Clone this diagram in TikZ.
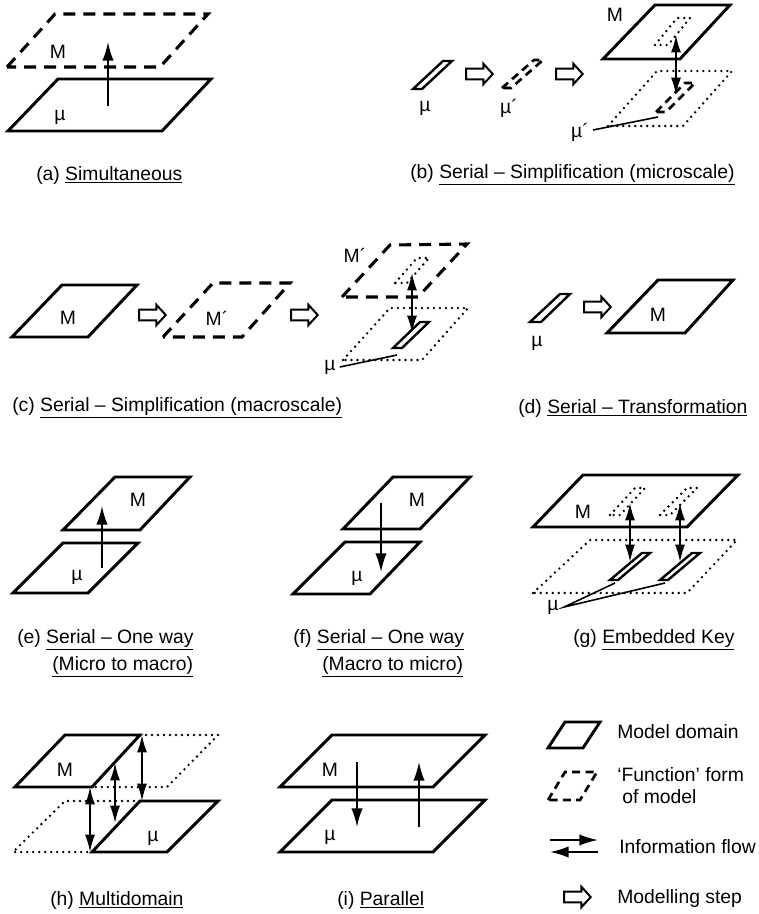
\documentclass[tikz,border=0pt]{standalone}
\usepackage{fontspec}
\setmainfont{Liberation Sans}
\usetikzlibrary{arrows.meta,positioning,shapes.arrows}
\newcommand{\shaft}{\vrule width 0pt height 3.2pt depth 3.2pt}

\begin{document}
\begin{tikzpicture}[
    x=0.75pt, y=-0.75pt,
    modeldom/.style={line width=2.2pt, line join=miter},
    thindom/.style={line width=1.8pt, line join=miter},
    func/.style={line width=2.3pt, dash pattern=on 9pt off 6pt},
    thinfunc/.style={line width=2pt, dash pattern=on 6pt off 4pt},
    footprint/.style={line width=2pt, line cap=round, dash pattern=on 0pt off 4.5pt},
    flow/.style={line width=1.3pt, -{Latex[length=14pt,width=8.5pt]}},
    biflow/.style={line width=1.3pt, {Latex[length=13pt,width=7.5pt]}-{Latex[length=13pt,width=7.5pt]}},
    leader/.style={line width=1.2pt},
    stepbox/.style={single arrow, draw, line width=1.5pt, inner sep=0pt,
        minimum height=20pt, single arrow head extend=3.8pt, single arrow tip angle=95},
    lbl/.style={font=\fontsize{14.5}{17}\selectfont, inner sep=0pt},
    capt/.style={lbl, anchor=west}
]
\useasboundingbox (0,0) rectangle (759,914);

% (a) simultaneous
\draw[func] (7,67) -- (55,14) -- (208,14) -- (160,67) -- cycle;
\draw[modeldom] (8,131) -- (58,79) -- (211,79) -- (162,131) -- cycle;
\node[lbl] (a-M) at (58,52) {M};
\node[lbl] (a-mu) at (60,117) {µ};
\coordinate (a-lo) at (108,106);
\coordinate (a-hi) at (108,42);
\draw[flow] (a-lo) -- (a-hi);
\node[capt] (a-cap) at (36,175) {(a) \underline{Simultaneous}};

% (b) simplification, microscale
\draw[thindom] (413,89) -- (443,61) -- (452,61) -- (422,89) -- cycle;
\node[lbl] (b-mu) at (425,108) {µ};
\node[stepbox] (b-step1) at (477,74) {\shaft};
\draw[thinfunc] (502,88) -- (534,60) -- (543,60) -- (511,88) -- cycle;
\node[lbl] (b-mu1) at (509,108) {µ´};
\node[stepbox] (b-step2) at (567,74) {\shaft};
\draw[modeldom] (603,59) -- (655,5) -- (730,5) -- (680,59) -- cycle;
\node[lbl] (b-M) at (615,15) {M};
\draw[footprint] (655,45) -- (677,18) -- (690,18) -- (668,45) -- cycle;
\draw[footprint] (608,126) -- (657,71) -- (732,71) -- (683,126) -- cycle;
\draw[thinfunc] (656,112) -- (685,83) -- (695,83) -- (666,112) -- cycle;
\coordinate (b-hi) at (676,35);
\coordinate (b-lo) at (676,95);
\draw[biflow] (b-hi) -- (b-lo);
\node[lbl] (b-mu2) at (580,132) {µ´};
\coordinate (b-tip) at (658,117);
\draw[leader] (b-mu2.east) ++(4,-2) -- (b-tip);
\node[capt] (b-cap) at (410,175) {(b) \underline{Serial – Simplification (microscale)}};

% (c) simplification, macroscale
\draw[modeldom] (12,337) -- (62,285) -- (137,285) -- (88,337) -- cycle;
\node[lbl] (c-M) at (68,318) {M};
\node[stepbox] (c-step1) at (150,315) {\shaft};
\draw[func] (163,337) -- (213,283) -- (290,283) -- (242,337) -- cycle;
\node[lbl] (c-M1) at (217,318) {M´};
\node[stepbox] (c-step2) at (302,315) {\shaft};
\draw[func] (342,297) -- (390,245) -- (467,244) -- (418,297) -- cycle;
\node[lbl] (c-M2) at (355,255) {M´};
\draw[footprint] (395,283) -- (417,258) -- (429,258) -- (407,283) -- cycle;
\draw[footprint] (343,360) -- (390,308) -- (468,308) -- (422,360) -- cycle;
\draw[thindom] (393,348) -- (420,322) -- (429,322) -- (402,348) -- cycle;
\coordinate (c-hi) at (412,273);
\coordinate (c-lo) at (412,333);
\draw[biflow] (c-hi) -- (c-lo);
\node[lbl] (c-mu) at (330,367) {µ};
\coordinate (c-tip) at (397,355);
\draw[leader] (c-mu.east) ++(4,0) -- (c-tip);
\node[capt] (c-cap) at (12,408) {(c) \underline{Serial – Simplification (macroscale)}};

% (d) transformation
\draw[thindom] (530,322) -- (560,294) -- (570,294) -- (541,322) -- cycle;
\node[lbl] (d-mu) at (537,343) {µ};
\node[stepbox] (d-step) at (595,307) {\shaft};
\draw[modeldom] (607,333) -- (658,280) -- (733,280) -- (685,333) -- cycle;
\node[lbl] (d-M) at (658,315) {M};
\node[capt] (d-cap) at (518,408) {(d) \underline{Serial – Transformation}};

% (e) one way, micro to macro
\draw[modeldom] (63,530) -- (115,477) -- (190,477) -- (140,530) -- cycle;
\node[lbl] (e-M) at (138,500) {M};
\draw[modeldom] (13,593) -- (63,543) -- (138,543) -- (88,593) -- cycle;
\node[lbl] (e-mu) at (77,577) {µ};
\coordinate (e-lo) at (102,568);
\coordinate (e-hi) at (102,506);
\draw[flow] (e-lo) -- (e-hi);
\node[capt] (e-cap1) at (17,640) {(e) \underline{Serial – One way}};
\node[capt] (e-cap2) at (52,667) {\underline{(Micro to macro)}};

% (f) one way, macro to micro
\draw[modeldom] (343,529) -- (393,477) -- (470,477) -- (420,529) -- cycle;
\node[lbl] (f-M) at (417,500) {M};
\draw[modeldom] (293,594) -- (345,542) -- (420,542) -- (370,594) -- cycle;
\node[lbl] (f-mu) at (357,578) {µ};
\coordinate (f-hi) at (381,503);
\coordinate (f-lo) at (381,572);
\draw[flow] (f-hi) -- (f-lo);
\node[capt] (f-cap1) at (293,640) {(f) \underline{Serial – One way}};
\node[capt] (f-cap2) at (322,667) {\underline{(Macro to micro)}};

% (g) embedded key
\draw[modeldom] (533,527) -- (583,475) -- (738,475) -- (687,527) -- cycle;
\node[lbl] (g-M) at (583,512) {M};
\draw[footprint] (610,515) -- (635,488) -- (645,488) -- (620,515) -- cycle;
\draw[footprint] (660,515) -- (687,488) -- (697,488) -- (670,515) -- cycle;
\draw[footprint] (533,593) -- (590,540) -- (737,540) -- (687,593) -- cycle;
\draw[thindom] (610,580) -- (642,553) -- (650,553) -- (618,580) -- cycle;
\draw[thindom] (660,580) -- (692,553) -- (700,553) -- (668,580) -- cycle;
\coordinate (g-hi1) at (630,503);
\coordinate (g-lo1) at (630,562);
\coordinate (g-hi2) at (680,503);
\coordinate (g-lo2) at (680,562);
\draw[biflow] (g-hi1) -- (g-lo1);
\draw[biflow] (g-hi2) -- (g-lo2);
\node[lbl] (g-mu) at (553,607) {µ};
\coordinate (g-tip1) at (615,583);
\coordinate (g-tip2) at (665,583);
\draw[leader] (g-tip1) -- ([xshift=4]g-mu.east) -- (g-tip2);
\node[capt] (g-cap) at (573,640) {(g) \underline{Embedded Key}};

% (h) multidomain
\draw[footprint] (140,735) -- (218,735) -- (167,787) -- (92,787);
\draw[footprint] (140,801) -- (65,801) -- (13,852) -- (92,852);
\draw[modeldom] (15,787) -- (65,735) -- (140,735) -- (92,787) -- cycle;
\draw[modeldom] (92,852) -- (140,801) -- (218,801) -- (167,852) -- cycle;
\node[lbl] (h-M) at (65,770) {M};
\node[lbl] (h-mu) at (153,838) {µ};
\coordinate (h-hi1) at (90,787);
\coordinate (h-lo1) at (90,852);
\coordinate (h-hi2) at (115,763);
\coordinate (h-lo2) at (115,823);
\coordinate (h-hi3) at (142,735);
\coordinate (h-lo3) at (142,801);
\draw[biflow] (h-hi1) -- (h-lo1);
\draw[biflow] (h-hi2) -- (h-lo2);
\draw[biflow] (h-hi3) -- (h-lo3);
\node[capt] (h-cap) at (50,900) {(h) \underline{Multidomain}};

% (i) parallel
\draw[modeldom] (280,787) -- (332,735) -- (485,735) -- (433,787) -- cycle;
\node[lbl] (i-M) at (330,770) {M};
\draw[modeldom] (280,852) -- (332,800) -- (485,800) -- (433,852) -- cycle;
\node[lbl] (i-mu) at (330,837) {µ};
\coordinate (i-hi1) at (357,762);
\coordinate (i-lo1) at (357,827);
\coordinate (i-lo2) at (419,827);
\coordinate (i-hi2) at (419,762);
\draw[flow] (i-hi1) -- (i-lo1);
\draw[flow] (i-lo2) -- (i-hi2);
\node[capt] (i-cap) at (337,900) {(i) \underline{Parallel}};

% key
\draw[modeldom] (548,748) -- (565,722) -- (600,722) -- (583,748) -- cycle;
\node[capt] (k-dom) at (617,732) {Model domain};
\draw[thinfunc] (548,800) -- (565,772) -- (597,772) -- (580,800) -- cycle;
\node[capt] (k-fun1) at (617,775) {‘Function’ form};
\node[capt] (k-fun2) at (622,797) {of model};
\coordinate (k-l1) at (550,840);
\coordinate (k-r1) at (598,840);
\coordinate (k-l2) at (550,852);
\coordinate (k-r2) at (598,852);
\draw[flow] (k-l1) -- (k-r1);
\draw[flow] (k-r2) -- (k-l2);
\node[capt] (k-flow) at (619,847) {Information flow};
\node[stepbox] (k-step) at (575,897) {\shaft};
\node[capt] (k-stepl) at (617,898) {Modelling step};

\end{tikzpicture}
\end{document}
